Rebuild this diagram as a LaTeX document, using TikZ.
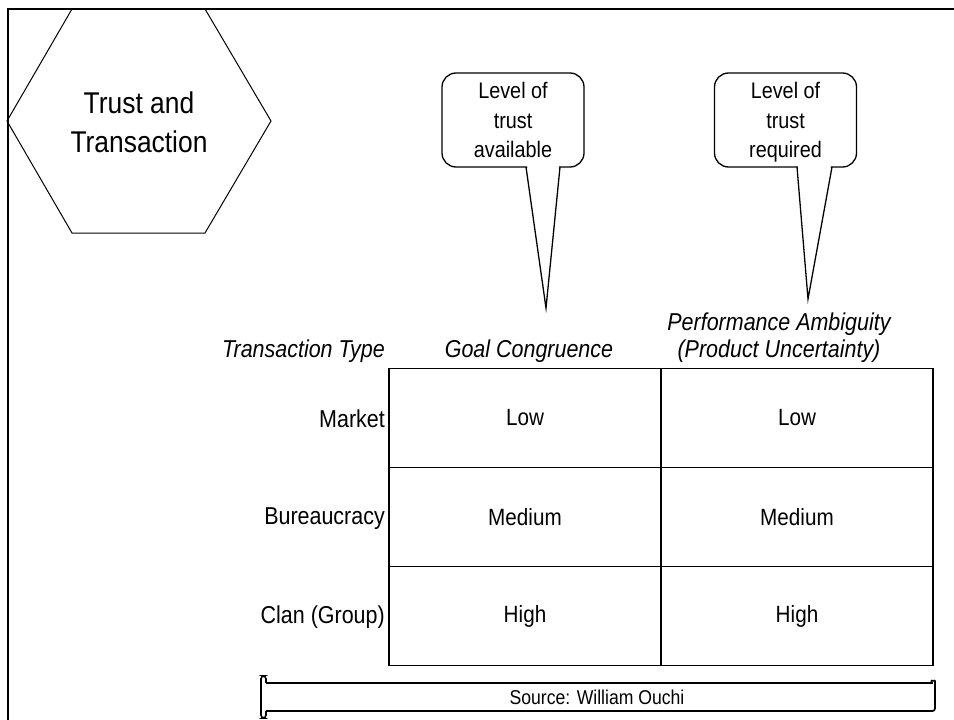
\documentclass[tikz,border=0pt]{standalone}
\usepackage{fontspec}
\setmainfont{Liberation Sans}[FakeStretch=0.88]
\tikzset{
  frameline/.style={line width=2pt},
  hexline/.style={line width=1pt},
  calloutbox/.style={draw, line width=1.3pt, rounded corners=14pt, minimum width=142pt, minimum height=94pt, inner sep=0pt},
  calltext/.style={anchor=north, align=center, inner sep=0pt, font=\fontsize{22.5}{29.5}\selectfont},
  tailline/.style={line width=1.3pt, line join=miter},
  header/.style={font=\fontsize{24.4}{27}\selectfont\itshape, inner sep=0pt},
  rowlabel/.style={font=\fontsize{24.4}{26}\selectfont, anchor=east, inner sep=0pt},
  cell/.style={draw, line width=1.3pt, minimum width=272pt, minimum height=99pt, inner sep=0pt, font=\fontsize{23.5}{26}\selectfont},
  scrollline/.style={line width=1.6pt},
}
\begin{document}
\begin{tikzpicture}[x=1pt, y=-1pt]
\useasboundingbox (0,0) rectangle (954,720);

% outer frame (only top and left sides fall on the page)
\draw[frameline] (954,9) -- (8,9) -- (8,720);

% title hexagon
\draw[hexline] (72,9) -- (205,9) -- (271,121) -- (205,233) -- (72,233) -- (7,121) -- cycle;
\node[align=center, font=\fontsize{30}{39}\selectfont] (title) at (139,122) {Trust and\\Transaction};

% callout bubbles with pointed tails
\node[calloutbox] (avail) at (513,120) {};
\node[calltext] (availtext) at ([yshift=-10pt]avail.north) {Level of\\trust\\available};
\coordinate (availtip) at (546,308);
\fill[white] (527,165) -- (559,165) -- (546,300) -- cycle;
\draw[tailline] (526,167) -- (availtip) -- (560,167);

\node[calloutbox] (req) at (785.5,120) {};
\node[calltext] (reqtext) at ([yshift=-10pt]req.north) {Level of\\trust\\required};
\coordinate (reqtip) at (808,299);
\fill[white] (798,165) -- (831,165) -- (808,290) -- cycle;
\draw[tailline] (797,167) -- (reqtip) -- (832,167);

% column headers
\node[header, anchor=base east] (hdtype) at (385,357) {Transaction Type};
\node[header, anchor=base] (hdgoal) at (529,357) {Goal Congruence};
\node[header, anchor=base] (hdperf1) at (779,330) {Performance Ambiguity};
\node[header, anchor=base] (hdperf2) at (779,357) {(Product Uncertainty)};

% table cells
\node[cell] (c11) at (525,418) {Low};
\node[cell] (c12) at (797,418) {Low};
\node[cell] (c21) at (525,517) {Medium};
\node[cell] (c22) at (797,517) {Medium};
\node[cell] (c31) at (525,616) {High};
\node[cell] (c32) at (797,616) {High};

% row labels
\node[rowlabel] (rmarket) at (385,419) {Market};
\node[rowlabel] (rbureau) at (385,519) {Bureaucracy};
\node[rowlabel] (rclan) at (385,617) {Clan (Group)};

% source banner drawn as a scroll
\node[font=\fontsize{20}{24}\selectfont] (src) at (597,697) {Source: William Ouchi};
\draw[scrollline] (266,683) -- (933,683);
\draw[scrollline] (266,711) -- (933,711);
\draw[scrollline, rounded corners=2.5pt] (933,711) -- (935,711) -- (935,679) arc (0:180:1.8) -- (931.4,683);
\draw[scrollline, rounded corners=3pt] (266,683) -- (266,676) -- (261,676) -- (261,718) -- (266,718) -- (266,711);
\end{tikzpicture}
\end{document}
